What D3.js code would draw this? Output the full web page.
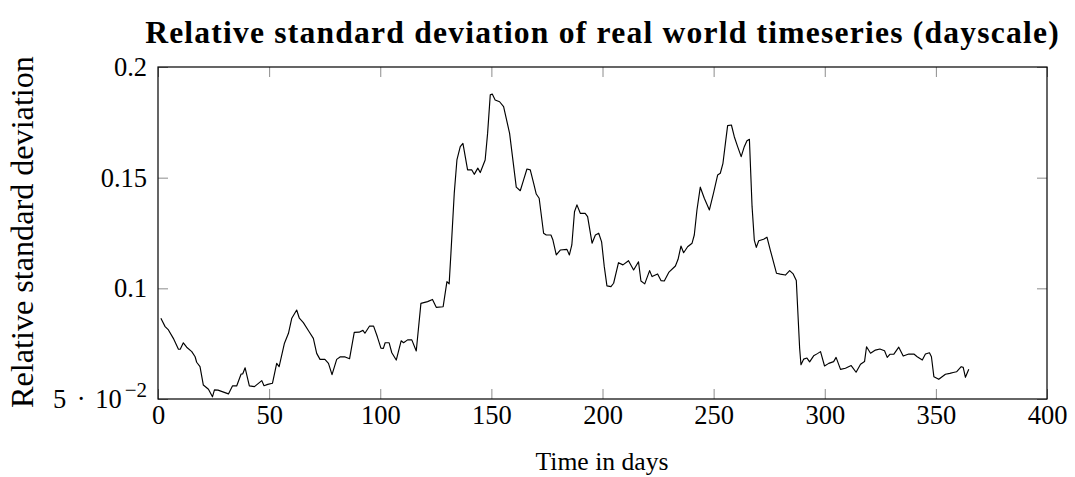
<!DOCTYPE html>
<html>
<head>
<meta charset="utf-8">
<script src="https://cdn.jsdelivr.net/npm/d3@7"></script>
<style>
  html, body { margin: 0; padding: 0; background: #fff; }
  svg text { font-family: "Liberation Serif", "DejaVu Serif", serif; fill: #000; }
</style>
</head>
<body>
<svg id="chart" width="1075" height="477"></svg>
<script>
// Day index of each sample
const days = [
  1.3, 3.2, 4.7, 6.9, 9.2, 10, 11.4, 12.9, 15.2, 16.7, 17.4, 18.9, 20.4, 22.7, 24.5, 25.4, 27, 31.7,
  33.5, 35.4, 37.4, 38.1, 39.2, 41.1, 43.4, 46.7, 47.7, 49.4, 51.5, 53.4, 54.5, 56.9, 58.7, 60.2,
  62.4, 63.6, 65.4, 68, 69.9, 71.4, 72.9, 75.1, 76.7, 78.3, 80.4, 81.9, 84.2, 86.2, 88.3, 90.5,
  92.2, 93.1, 95.2, 97, 98.7, 100.3, 101.4, 102.2, 104, 105.2, 107.2, 109.4, 110.5, 112.3, 114.2,
  116.2, 118.3, 121.3, 123.5, 125.2, 128.3, 130, 131, 131.8, 133.3, 134.5, 136, 137.2, 139.3,
  141.2, 142.3, 143.9, 145, 147.2, 148.3, 149.5, 150.4, 151.7, 153.7, 155.5, 158.2, 161.2, 163,
  164.5, 166, 167.5, 169, 170.2, 171.5, 173.5, 174.7, 176.8, 177.7, 179.2, 181, 184, 185.1, 186.2,
  187.4, 188.5, 190, 192.2, 193.3, 195.3, 196.8, 198.3, 199.6, 200.8, 202, 203.8, 205, 207.2,
  209.2, 211.7, 214, 216.2, 217.3, 219, 221.2, 222.3, 224.8, 226.3, 227.8, 229.8, 232.8, 234,
  235.3, 236.5, 238.3, 240.3, 241.3, 242.5, 244, 245.8, 248.1, 250, 251.8, 253, 254.2, 255.3,
  256.3, 258, 259.3, 260.8, 262.4, 263.8, 265, 266.1, 267.3, 268.3, 269.2, 270.3, 272.5, 274,
  275.5, 278.3, 280, 282.3, 284.2, 285.8, 287.2, 288.7, 289.3, 290.5, 292, 293.2, 295, 296.7,
  298.1, 299.9, 301.8, 304, 305.1, 307.1, 309.3, 311.9, 314.1, 316.1, 317.9, 318.8, 320.6, 322.8,
  324.8, 326.9, 328.1, 329.3, 331.1, 333.3, 335.3, 337.8, 340.1, 341.6, 343.9, 345.3, 347.1, 348,
  349.1, 351.3, 354.3, 356.3, 357.8, 359.3, 361.4, 362.3, 363.3, 364.8
];

// Relative standard deviation for each day
const rsd = [
  0.0865, 0.0827, 0.0812, 0.0774, 0.0725, 0.0725, 0.0754, 0.0734, 0.0714, 0.0691, 0.0666, 0.0646,
  0.0563, 0.0544, 0.0510, 0.0541, 0.0540, 0.0523, 0.0559, 0.0559, 0.0613, 0.0613, 0.0641, 0.0559,
  0.0556, 0.0583, 0.0560, 0.0566, 0.0571, 0.0661, 0.0646, 0.0752, 0.0797, 0.0865, 0.0902, 0.0865,
  0.0845, 0.0804, 0.0774, 0.0706, 0.0679, 0.0679, 0.0661, 0.0610, 0.0679, 0.0690, 0.0690, 0.0682,
  0.0801, 0.0802, 0.0810, 0.0797, 0.0830, 0.0829, 0.0781, 0.0730, 0.0729, 0.0754, 0.0754, 0.0709,
  0.0676, 0.0763, 0.0754, 0.0767, 0.0767, 0.0717, 0.0932, 0.0940, 0.0950, 0.0914, 0.0917, 0.1030,
  0.1020, 0.1158, 0.1430, 0.1580, 0.1640, 0.1655, 0.1535, 0.1535, 0.1515, 0.1543, 0.1523, 0.1580,
  0.1700, 0.1874, 0.1878, 0.1851, 0.1843, 0.1821, 0.1700, 0.1457, 0.1441, 0.1490, 0.1539, 0.1535,
  0.1475, 0.1426, 0.1407, 0.1249, 0.1241, 0.1241, 0.1218, 0.1151, 0.1173, 0.1176, 0.1151, 0.1196,
  0.1346, 0.1377, 0.1339, 0.1339, 0.1324, 0.1204, 0.1241, 0.1249, 0.1210, 0.1098, 0.1011, 0.1008,
  0.1023, 0.1116, 0.1106, 0.1125, 0.1083, 0.1120, 0.1033, 0.1020, 0.1080, 0.1053, 0.1065, 0.1035,
  0.1033, 0.1072, 0.1101, 0.1131, 0.1191, 0.1161, 0.1188, 0.1204, 0.1241, 0.1354, 0.1457, 0.1407,
  0.1354, 0.1432, 0.1512, 0.1520, 0.1565, 0.1655, 0.1735, 0.1738, 0.1685, 0.1640, 0.1595, 0.1640,
  0.1667, 0.1673, 0.1369, 0.1218, 0.1185, 0.1215, 0.1222, 0.1231, 0.1173, 0.1068, 0.1064, 0.1060,
  0.1080, 0.1065, 0.1035, 0.0729, 0.0655, 0.0680, 0.0685, 0.0668, 0.0695, 0.0705, 0.0714, 0.0649,
  0.0661, 0.0669, 0.0688, 0.0634, 0.0639, 0.0651, 0.0621, 0.0657, 0.0669, 0.0736, 0.0707, 0.0721,
  0.0726, 0.0718, 0.0688, 0.0702, 0.0703, 0.0734, 0.0694, 0.0703, 0.0703, 0.0691, 0.0676, 0.0703,
  0.0709, 0.0691, 0.0601, 0.0589, 0.0612, 0.0616, 0.0620, 0.0623, 0.0646, 0.0643, 0.0598, 0.0634
];

const xTicks = [0, 50, 100, 150, 200, 250, 300, 350, 400];
const yTicks = [0.05, 0.1, 0.15, 0.2];
const yTickLabels = ["5", "0.1", "0.15", "0.2"];

const titleText = "Relative standard deviation of real world timeseries (dayscale)";
const xLabelText = "Time in days";
const yLabelText = "Relative standard deviation";

const svg = d3.select("#chart");
const margin = { left: 158, top: 67, right: 1047, bottom: 399 };

const x = d3.scaleLinear().domain([0, 400]).range([margin.left, margin.right]);
const y = d3.scaleLinear().domain([0.05, 0.2]).range([margin.bottom, margin.top]);

const tickLen = 10;
const tickColor = "#8c8c8c";
const labelSize = 26.5;

// Inward ticks on all four sides
const axisBottom = d3.axisBottom(x).tickValues(xTicks).tickSizeInner(-tickLen).tickSizeOuter(0).tickFormat(d => d);
const axisTop = d3.axisTop(x).tickValues(xTicks).tickSizeInner(-tickLen).tickSizeOuter(0).tickFormat("");
const axisLeft = d3.axisLeft(y).tickValues(yTicks).tickSizeInner(-tickLen).tickSizeOuter(0).tickFormat("");
const axisRight = d3.axisRight(y).tickValues(yTicks).tickSizeInner(-tickLen).tickSizeOuter(0).tickFormat("");

function styleAxis(g) {
  g.select(".domain").remove();
  g.selectAll(".tick line").attr("stroke", tickColor).attr("stroke-width", 1);
}

const gB = svg.append("g").attr("transform", `translate(0,${margin.bottom})`).call(axisBottom).call(styleAxis);
gB.selectAll(".tick text")
  .attr("y", 25).attr("dy", 0)
  .attr("font-size", labelSize)
  .attr("font-family", "Liberation Serif, serif")
  .attr("fill", "#000");

svg.append("g").attr("transform", `translate(0,${margin.top})`).call(axisTop).call(styleAxis);
svg.append("g").attr("transform", `translate(${margin.left},0)`).call(axisLeft).call(styleAxis);
svg.append("g").attr("transform", `translate(${margin.right},0)`).call(axisRight).call(styleAxis);

// Y tick labels, the lowest one written as 5 · 10^-2
const yl = svg.append("g");
yTicks.forEach((v, i) => {
  const t = yl.append("text")
    .attr("x", margin.left - 11)
    .attr("y", y(v) + 9)
    .attr("text-anchor", "end")
    .attr("font-size", labelSize);
  if (v === 0.05) {
    t.append("tspan").text(yTickLabels[i]);
    t.append("tspan").attr("dx", 10.5).text("·");
    t.append("tspan").attr("dx", 9.5).text("10");
    t.append("tspan")
      .attr("dx", 3)
      .attr("dy", -11)
      .attr("font-size", 21)
      .text("−2");
  } else {
    t.text(yTickLabels[i]);
  }
});

// Data line
const line = d3.line()
  .x((d, i) => x(days[i]))
  .y((d, i) => y(rsd[i]));

svg.append("path")
  .datum(rsd)
  .attr("fill", "none")
  .attr("stroke", "#000")
  .attr("stroke-width", 1.15)
  .attr("stroke-linejoin", "round")
  .attr("d", line);

// Frame
svg.append("rect")
  .attr("x", margin.left).attr("y", margin.top)
  .attr("width", margin.right - margin.left)
  .attr("height", margin.bottom - margin.top)
  .attr("fill", "none")
  .attr("stroke", "#000")
  .attr("stroke-width", 1.2);

// Fit a text element to a given width by scaling its font size,
// keeping any fixed letter spacing out of the scaled part
function fitWidth(sel, target, spacing = 0) {
  const n = sel.text().length;
  const w = sel.node().getComputedTextLength();
  const fs = parseFloat(sel.attr("font-size"));
  sel.attr("font-size", fs * (target - n * spacing) / (w - n * spacing));
}

const titleSpacing = 1.2;
const title = svg.append("text")
  .attr("x", 602.5).attr("y", 43)
  .attr("text-anchor", "middle")
  .attr("font-weight", "bold")
  .attr("font-size", 24)
  .attr("letter-spacing", titleSpacing)
  .text(titleText);
fitWidth(title, 915, titleSpacing);

const xLab = svg.append("text")
  .attr("x", 602).attr("y", 470)
  .attr("text-anchor", "middle")
  .attr("font-size", 26)
  .text(xLabelText);
fitWidth(xLab, 133);

const yLab = svg.append("text")
  .attr("transform", "translate(33,232) rotate(-90)")
  .attr("text-anchor", "middle")
  .attr("font-size", 26)
  .text(yLabelText);
fitWidth(yLab, 352);
</script>
</body>
</html>
